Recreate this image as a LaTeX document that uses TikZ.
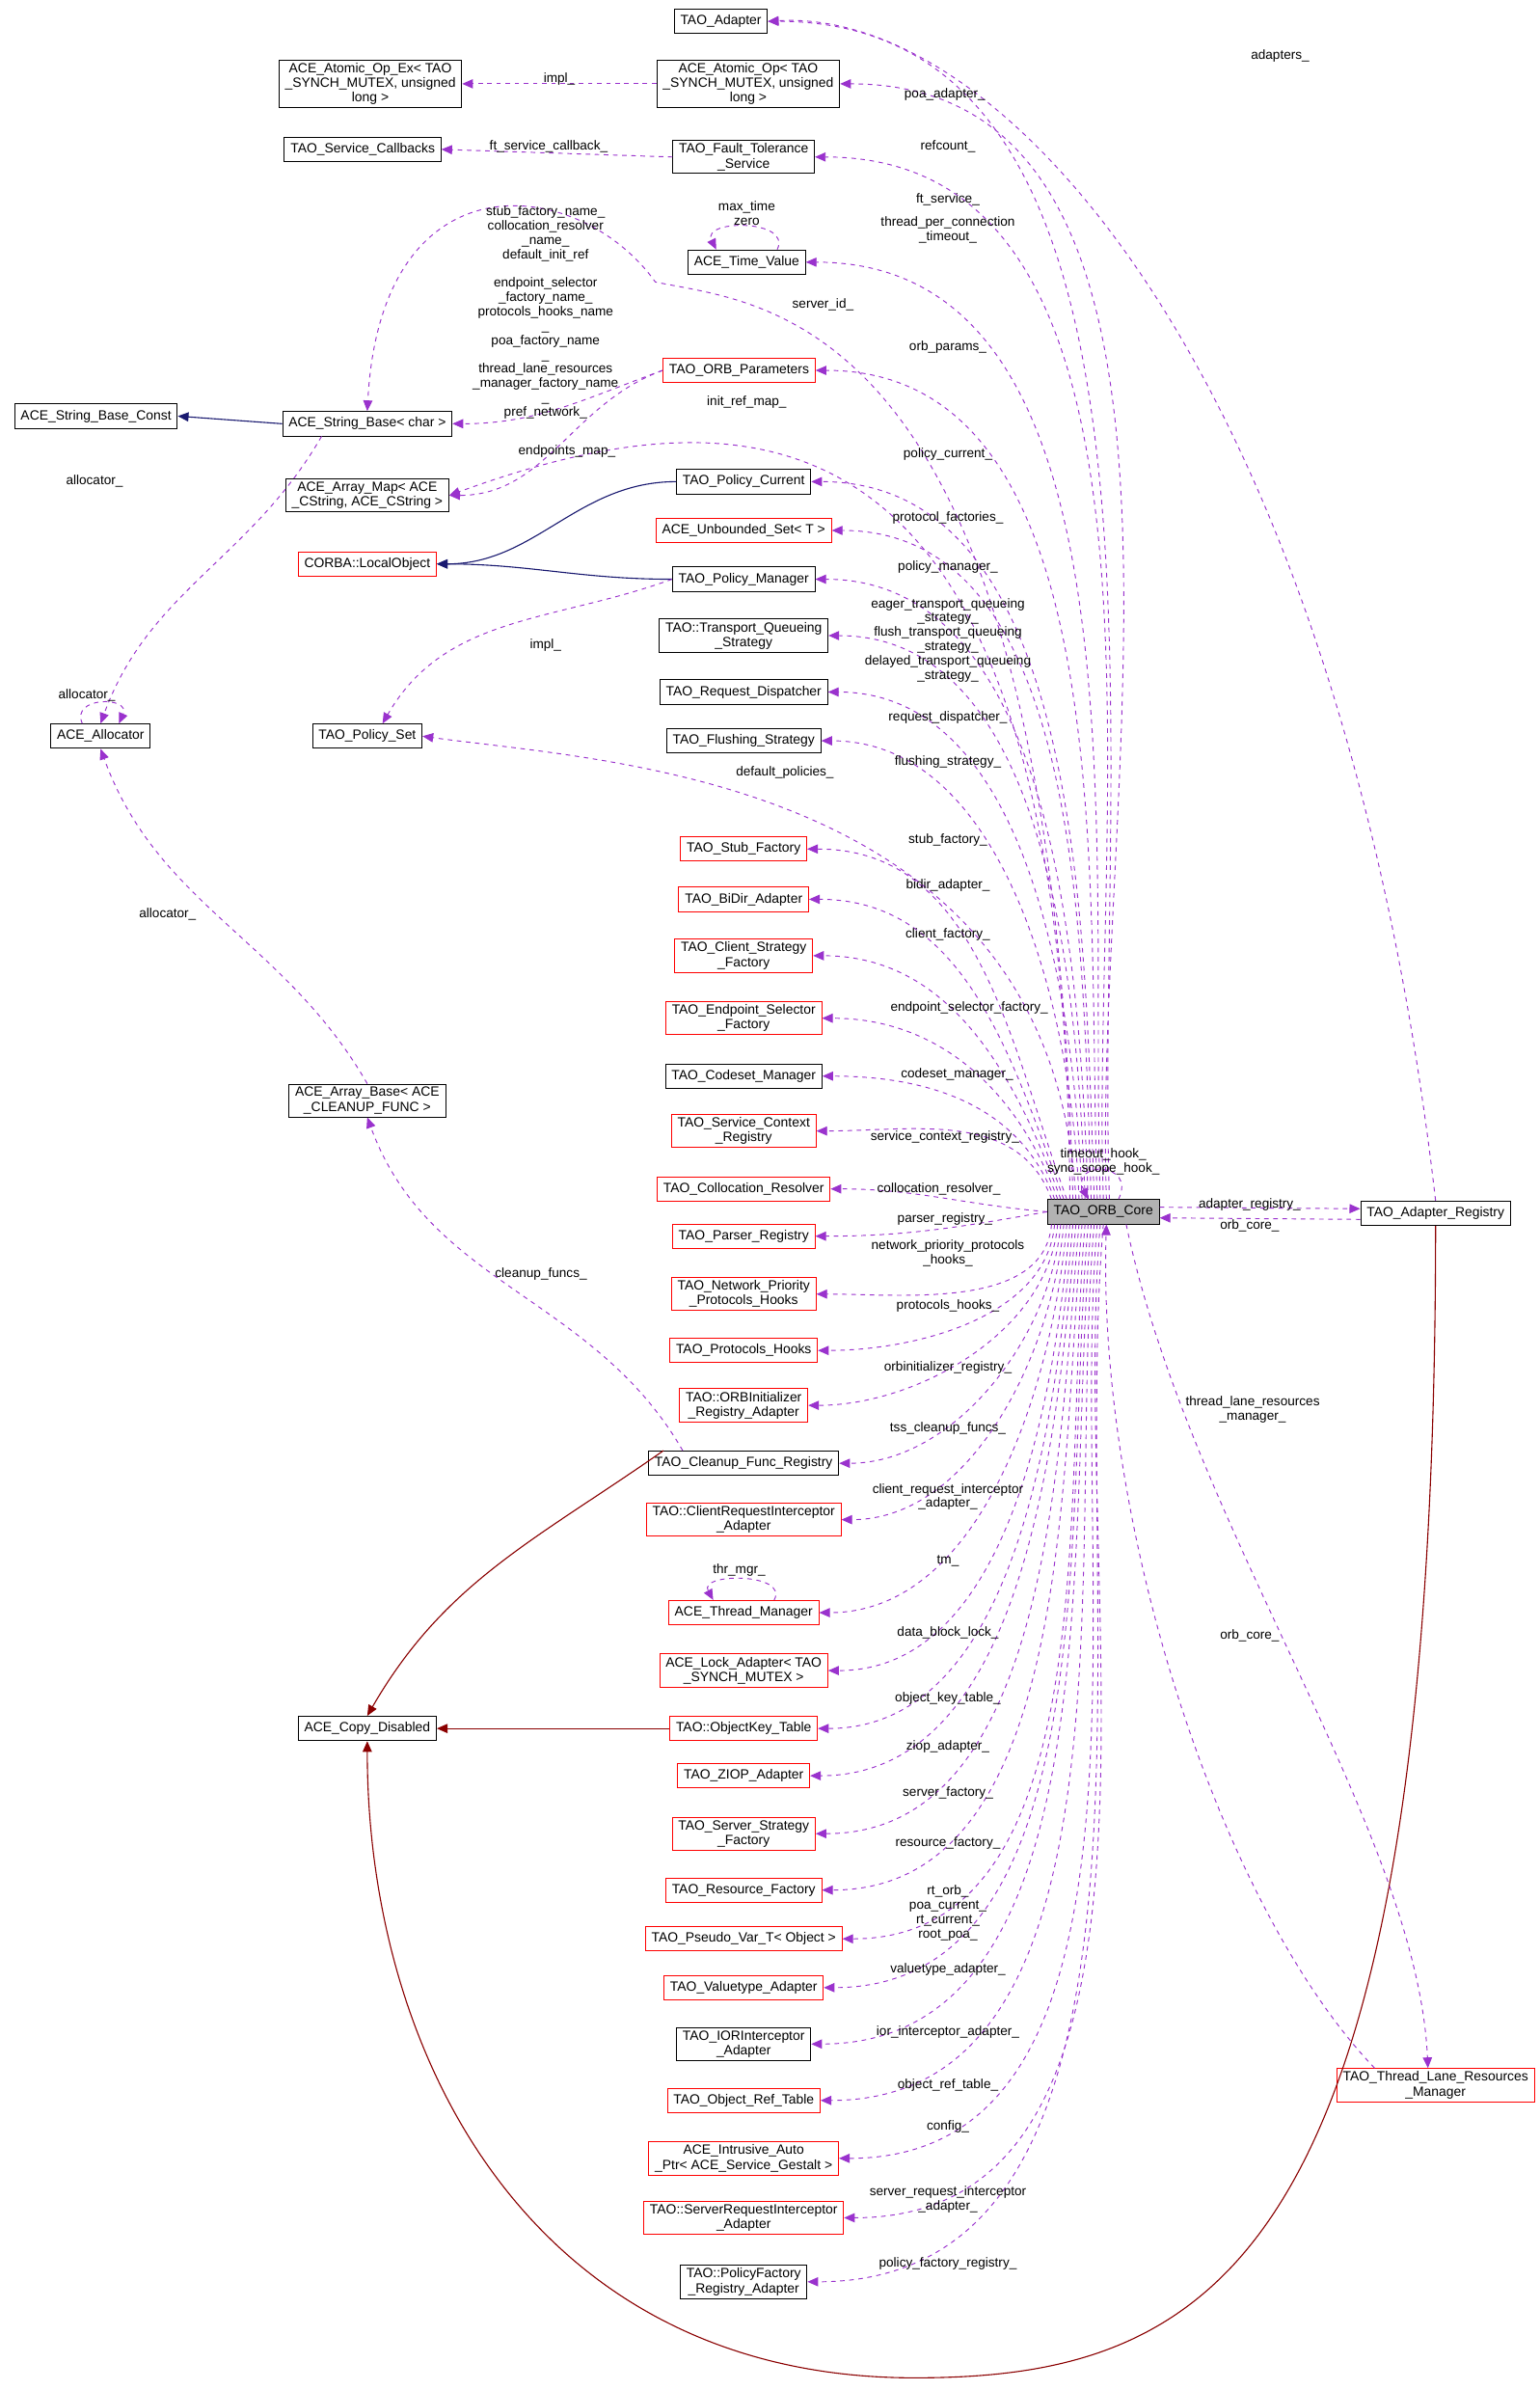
\documentclass[tikz,border=0pt]{standalone}
\usepackage{fontspec}
\setmainfont{Liberation Sans}
\usetikzlibrary{arrows.meta}
\definecolor{pur}{HTML}{9A32CD}
\definecolor{nav}{HTML}{191970}
\definecolor{drd}{HTML}{8B0000}
\begin{document}
\begin{tikzpicture}[x=1pt,y=1pt,
 box/.style={draw=black,fill=white,font=\fontsize{8.8}{9.6}\selectfont,align=center,inner xsep=4pt,inner ysep=2pt,minimum height=16pt,line width=0.6pt},
 rbox/.style={box,draw=red},
 lbl/.style={font=\fontsize{8.6}{9.4}\selectfont,align=center,inner sep=0pt},
 mem/.style={pur,dashed,line width=0.6pt,-{Triangle[length=7pt,width=6pt]}},
 inh/.style={nav,line width=0.7pt,-{Triangle[length=7pt,width=6pt]}},
 cpy/.style={drd,line width=0.7pt,-{Triangle[length=7pt,width=6pt]}}]
\path[use as bounding box,fill=white] (0,0) rectangle (1010,-1568);
% nodes
\node[box] (ta) at (473,-14) {TAO\_Adapter};
\node[box] (ao) at (491,-55) {ACE\_Atomic\_Op< TAO\\\_SYNCH\_MUTEX, unsigned\\long >};
\node[box] (aoe) at (243,-55) {ACE\_Atomic\_Op\_Ex< TAO\\\_SYNCH\_MUTEX, unsigned\\long >};
\node[box] (sc) at (238,-98) {TAO\_Service\_Callbacks};
\node[box] (ft) at (488,-103) {TAO\_Fault\_Tolerance\\\_Service};
\node[box] (tv) at (490,-172) {ACE\_Time\_Value};
\node[rbox] (op) at (485,-243) {TAO\_ORB\_Parameters};
\node[box] (sbc) at (63,-273) {ACE\_String\_Base\_Const};
\node[box] (sb) at (241,-278) {ACE\_String\_Base< char >};
\node[box] (am) at (241,-325) {ACE\_Array\_Map< ACE\\\_CString, ACE\_CString >};
\node[box] (pc) at (488,-316) {TAO\_Policy\_Current};
\node[rbox] (us) at (488,-348) {ACE\_Unbounded\_Set< T >};
\node[rbox] (lo) at (241,-370) {CORBA::LocalObject};
\node[box] (pm) at (488,-380) {TAO\_Policy\_Manager};
\node[box] (tq) at (488,-417) {TAO::Transport\_Queueing\\\_Strategy};
\node[box] (rd) at (488,-454) {TAO\_Request\_Dispatcher};
\node[box] (fs) at (488,-486) {TAO\_Flushing\_Strategy};
\node[box] (al) at (66,-483) {ACE\_Allocator};
\node[box] (ps) at (241,-483) {TAO\_Policy\_Set};
\node[rbox] (n1) at (488,-557) {TAO\_Stub\_Factory};
\node[rbox] (n2) at (488,-590) {TAO\_BiDir\_Adapter};
\node[rbox] (n3) at (488,-627) {TAO\_Client\_Strategy\\\_Factory};
\node[rbox] (n4) at (488,-668) {TAO\_Endpoint\_Selector\\\_Factory};
\node[box] (n5) at (488,-706) {TAO\_Codeset\_Manager};
\node[rbox] (n6) at (488,-742) {TAO\_Service\_Context\\\_Registry};
\node[rbox] (n7) at (488,-780) {TAO\_Collocation\_Resolver};
\node[rbox] (n8) at (488,-811) {TAO\_Parser\_Registry};
\node[rbox] (n9) at (488,-849) {TAO\_Network\_Priority\\\_Protocols\_Hooks};
\node[rbox] (n10) at (488,-886) {TAO\_Protocols\_Hooks};
\node[rbox] (n11) at (488,-922) {TAO::ORBInitializer\\\_Registry\_Adapter};
\node[box] (cfr) at (488,-960) {TAO\_Cleanup\_Func\_Registry};
\node[rbox] (n13) at (488,-997) {TAO::ClientRequestInterceptor\\\_Adapter};
\node[rbox] (tm) at (488,-1058) {ACE\_Thread\_Manager};
\node[rbox] (n15) at (488,-1096) {ACE\_Lock\_Adapter< TAO\\\_SYNCH\_MUTEX >};
\node[rbox] (okt) at (488,-1134) {TAO::ObjectKey\_Table};
\node[rbox] (n17) at (488,-1165) {TAO\_ZIOP\_Adapter};
\node[rbox] (n18) at (488,-1203) {TAO\_Server\_Strategy\\\_Factory};
\node[rbox] (n19) at (488,-1240) {TAO\_Resource\_Factory};
\node[rbox] (n20) at (488,-1272) {TAO\_Pseudo\_Var\_T< Object >};
\node[rbox] (n21) at (488,-1304) {TAO\_Valuetype\_Adapter};
\node[box] (n22) at (488,-1341) {TAO\_IORInterceptor\\\_Adapter};
\node[rbox] (n23) at (488,-1378) {TAO\_Object\_Ref\_Table};
\node[rbox] (n24) at (488,-1416) {ACE\_Intrusive\_Auto\\\_Ptr< ACE\_Service\_Gestalt >};
\node[rbox] (n25) at (488,-1455) {TAO::ServerRequestInterceptor\\\_Adapter};
\node[box] (n26) at (488,-1497) {TAO::PolicyFactory\\\_Registry\_Adapter};
\node[box] (ab) at (241,-722) {ACE\_Array\_Base< ACE\\\_CLEANUP\_FUNC >};
\node[box] (cd) at (241,-1134) {ACE\_Copy\_Disabled};
\node[box,fill=gray!60] (core) at (724,-795) {TAO\_ORB\_Core};
\node[box] (ar) at (942,-796) {TAO\_Adapter\_Registry};
\node[rbox] (tl) at (942,-1368) {TAO\_Thread\_Lane\_Resources\\\_Manager};
% solid edges
\draw[inh] (sb.west) -- (sbc.east);
\draw[inh] (pc.west) to[out=180,in=0] (lo.east);
\draw[inh] (pm.west) to[out=180,in=0] (lo.east);
\draw[cpy] (cfr.north west) ++(10,0) to[out=215,in=60] (cd.north);
\draw[cpy] (okt.west) -- (cd.east);
\draw[cpy] (ar.south) .. controls (942,-1480) and (800,-1560) .. (600,-1560) .. controls (350,-1560) and (241,-1350) .. (cd.south);
% dashed, other
\draw[mem] (ao.west) -- (aoe.east);
\draw[mem] (ft.west) -- (sc.east);
\draw[mem] ([xshift=20]tv.north) .. controls +(10,20) and +(-10,20) .. ([xshift=-20]tv.north);
\draw[mem] (ar.north) .. controls (880,-250) and (660,-5) .. (ta.east);
\draw[mem] ([xshift=-20]core.north) .. controls (690,-200) and (500,-200) .. (430,-185) .. controls (380,-115) and (250,-100) .. (sb.north);
\draw[mem] (op.west) to[out=200,in=0] (sb.east);
\draw[mem] (op.west) to[out=200,in=0] (am.east);
\draw[mem] ([xshift=-22]core.north) .. controls (700,-260) and (500,-250) .. (am.east);
\draw[mem] (pm.west) to[out=200,in=60] ([xshift=10]ps.north);
\draw[mem] ([xshift=-18]core.north) .. controls (690,-510) and (400,-500) .. (ps.east);
\draw[mem] ([xshift=-30]sb.south) to[out=240,in=70] (al.north);
\draw[mem] ([xshift=-12]al.north) .. controls +(-8,18) and +(8,18) .. ([xshift=12]al.north);
\draw[mem] (ab.north) to[out=120,in=-70] (al.south);
\draw[mem] ([xshift=-40]cfr.north) to[out=120,in=-70] (ab.south);
\draw[mem] ([xshift=20]tm.north) .. controls +(10,18) and +(-10,18) .. ([xshift=-20]tm.north);
\draw[mem] ([xshift=10]core.north) .. controls +(12,25) and +(-12,25) .. ([xshift=-10]core.north);
\draw[mem] ([yshift=3]core.east) -- ([yshift=3]ar.west);
\draw[mem] ([yshift=-4]ar.west) -- ([yshift=-4]core.east);
\draw[mem] ([xshift=15]core.south) .. controls (780,-1000) and (930,-1200) .. ([xshift=-5]tl.north);
\draw[mem] ([xshift=-40]tl.north) .. controls (800,-1250) and (720,-1000) .. ([xshift=2]core.south);
% dashed from core upwards
\foreach \n/\s in {ta/4,ao/2,ft/0,tv/-2,op/-4,pc/-6,us/-8,pm/-10,tq/-12,rd/-14,fs/-16}{
 \draw[mem] ([xshift=\s]core.north) to[out=92,in=0,looseness=0.9] (\n.east);}
\foreach \n/\s in {n1/-24,n2/-26,n3/-28,n4/-30,n5/-32,n6/-34}{
 \draw[mem] ([xshift=\s]core.north) to[out=110,in=0] (\n.east);}
\draw[mem] (core.west) to[out=175,in=0] (n7.east);
\draw[mem] (core.west) to[out=190,in=0] (n8.east);
\foreach \n/\s in {n9/-34,n10/-32,n11/-30,cfr/-28,n13/-26,tm/-24,n15/-22,okt/-20,n17/-18,n18/-16,n19/-14,n20/-12,n21/-10,n22/-8,n23/-6,n24/-4,n25/-2,n26/0}{
 \draw[mem] ([xshift=\s]core.south) to[out=-95,in=0,looseness=0.9] (\n.east);}
% labels
\node[lbl] at (620,-62) {poa\_adapter\_};
\node[lbl] at (622,-96) {refcount\_};
\node[lbl] at (622,-131) {ft\_service\_};
\node[lbl] at (622,-151) {thread\_per\_connection\\\_timeout\_};
\node[lbl] at (540,-200) {server\_id\_};
\node[lbl] at (358,-205) {stub\_factory\_name\_\\collocation\_resolver\\\_name\_\\default\_init\_ref\\ \\endpoint\_selector\\\_factory\_name\_\\protocols\_hooks\_name\\\_\\poa\_factory\_name\\\_\\thread\_lane\_resources\\\_manager\_factory\_name\\\_\\pref\_network\_};
\node[lbl] at (622,-228) {orb\_params\_};
\node[lbl] at (490,-264) {init\_ref\_map\_};
\node[lbl] at (372,-296) {endpoints\_map\_};
\node[lbl] at (622,-298) {policy\_current\_};
\node[lbl] at (622,-340) {protocol\_factories\_};
\node[lbl] at (622,-372) {policy\_manager\_};
\node[lbl] at (622,-420) {eager\_transport\_queueing\\\_strategy\_\\flush\_transport\_queueing\\\_strategy\_\\delayed\_transport\_queueing\\\_strategy\_};
\node[lbl] at (622,-471) {request\_dispatcher\_};
\node[lbl] at (622,-500) {flushing\_strategy\_};
\node[lbl] at (515,-507) {default\_policies\_};
\node[lbl] at (622,-551) {stub\_factory\_};
\node[lbl] at (622,-581) {bidir\_adapter\_};
\node[lbl] at (622,-613) {client\_factory\_};
\node[lbl] at (636,-661) {endpoint\_selector\_factory\_};
\node[lbl] at (628,-705) {codeset\_manager\_};
\node[lbl] at (620,-746) {service\_context\_registry\_};
\node[lbl] at (724,-762) {timeout\_hook\_\\sync\_scope\_hook\_};
\node[lbl] at (616,-780) {collocation\_resolver\_};
\node[lbl] at (620,-800) {parser\_registry\_};
\node[lbl] at (622,-822) {network\_priority\_protocols\\\_hooks\_};
\node[lbl] at (622,-857) {protocols\_hooks\_};
\node[lbl] at (622,-897) {orbinitializer\_registry\_};
\node[lbl] at (622,-937) {tss\_cleanup\_funcs\_};
\node[lbl] at (622,-982) {client\_request\_interceptor\\\_adapter\_};
\node[lbl] at (622,-1024) {tm\_};
\node[lbl] at (622,-1071) {data\_block\_lock\_};
\node[lbl] at (622,-1114) {object\_key\_table\_};
\node[lbl] at (622,-1146) {ziop\_adapter\_};
\node[lbl] at (622,-1176) {server\_factory\_};
\node[lbl] at (622,-1209) {resource\_factory\_};
\node[lbl] at (622,-1255) {rt\_orb\_\\poa\_current\_\\rt\_current\_\\root\_poa\_};
\node[lbl] at (622,-1292) {valuetype\_adapter\_};
\node[lbl] at (622,-1333) {ior\_interceptor\_adapter\_};
\node[lbl] at (622,-1368) {object\_ref\_table\_};
\node[lbl] at (622,-1395) {config\_};
\node[lbl] at (622,-1443) {server\_request\_interceptor\\\_adapter\_};
\node[lbl] at (622,-1485) {policy\_factory\_registry\_};
\node[lbl] at (820,-790) {adapter\_registry\_};
\node[lbl] at (820,-804) {orb\_core\_};
\node[lbl] at (822,-925) {thread\_lane\_resources\\\_manager\_};
\node[lbl] at (820,-1073) {orb\_core\_};
\node[lbl] at (840,-37) {adapters\_};
\node[lbl] at (367,-52) {impl\_};
\node[lbl] at (360,-96) {ft\_service\_callback\_};
\node[lbl] at (490,-140) {max\_time\\zero};
\node[lbl] at (358,-423) {impl\_};
\node[lbl] at (62,-316) {allocator\_};
\node[lbl] at (57,-456) {allocator\_};
\node[lbl] at (110,-600) {allocator\_};
\node[lbl] at (355,-836) {cleanup\_funcs\_};
\node[lbl] at (485,-1030) {thr\_mgr\_};
\end{tikzpicture}
\end{document}
